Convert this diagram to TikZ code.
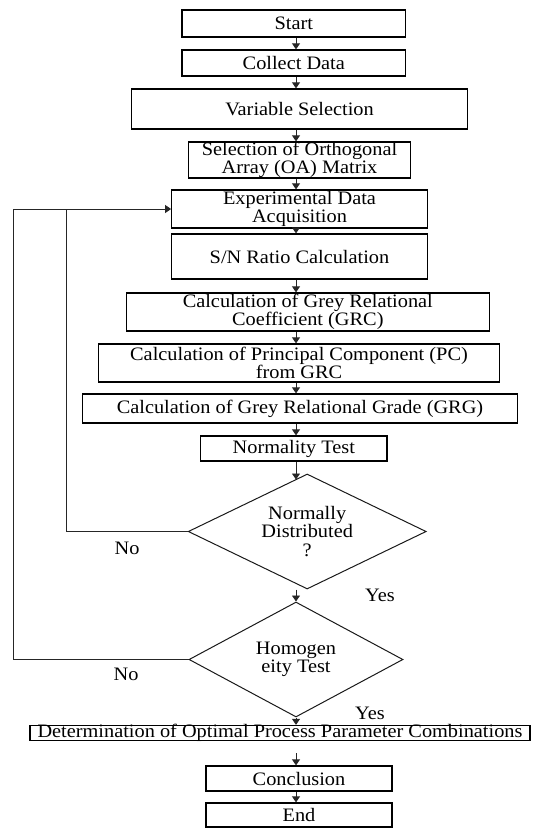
\documentclass[tikz,border=0pt]{standalone}
\usepackage{fontspec}
\setmainfont{Liberation Serif}[FakeStretch=1.07]
\usetikzlibrary{shapes.geometric,arrows.meta}
\begin{document}
\begin{tikzpicture}[x=1pt,y=-1pt,
  box/.style={draw=black,line width=1.3pt,inner sep=0pt,align=center,font=\fontsize{19}{18.5}\selectfont},
  dia/.style={diamond,draw=black!90,line width=1pt,inner sep=0pt,align=center,font=\fontsize{19}{18.5}\selectfont},
  conn/.style={draw=black!85,line width=0.9pt,-{Triangle[length=6pt,width=8pt]}},
  plain/.style={draw=black!85,line width=0.9pt},
  lbl/.style={font=\fontsize{19}{18}\selectfont,inner sep=0pt,anchor=base}]
\useasboundingbox (0,0) rectangle (541,828);
\node[box,minimum width=223.5pt,minimum height=27pt] (start) at (293.8,23.5) {Start};
\node[box,minimum width=223.5pt,minimum height=26pt] (collect) at (293.8,63) {Collect Data};
\node[box,minimum width=336pt,minimum height=40pt] (var) at (299.5,109) {Variable Selection};
\node[box,minimum width=222.4pt,minimum height=36pt] (oa) at (299.5,160) {Selection of Orthogonal\\Array (OA) Matrix};
\node[box,minimum width=255.5pt,minimum height=38pt] (exp) at (299.5,209) {Experimental Data\\Acquisition};
\node[box,minimum width=255.5pt,minimum height=45pt] (sn) at (299.5,256.5) {S/N Ratio Calculation};
\node[box,minimum width=363pt,minimum height=38pt] (grc) at (307.8,312) {Calculation of Grey Relational\\Coefficient (GRC)};
\node[box,minimum width=401.4pt,minimum height=38pt] (pc) at (299,363) {Calculation of Principal Component (PC)\\from GRC};
\node[box,minimum width=434.5pt,minimum height=29pt] (grg) at (300,408.5) {Calculation of Grey Relational Grade (GRG)};
\node[box,minimum width=186.2pt,minimum height=25pt] (norm) at (293.8,448.5) {Normality Test};
\node[dia,aspect=2,minimum width=238pt,minimum height=115pt] (d1) at (307.2,531.5) {Normally\\Distributed\\?};
\node[dia,aspect=1.8,minimum width=214pt,minimum height=115pt] (d2) at (296,659.5) {Homogen\\eity Test};
\node[box,minimum width=500pt,minimum height=15pt,text height=11pt,text depth=3pt] (det) at (280,733) {Determination of Optimal Process Parameter Combinations};
\node[box,minimum width=186.2pt,minimum height=25pt] (concl) at (299,778.5) {Conclusion};
\node[box,minimum width=186.2pt,minimum height=24pt] (end) at (299,815) {End};

\node[lbl] (no1) at (127,554) {No};
\node[lbl] (no2) at (126,680) {No};
\node[lbl] (yes1) at (380,601) {Yes};
\node[lbl] (yes2) at (370,719) {Yes};

\coordinate (ax) at (296,0);
\coordinate (d1in) at (296,479.5);
\coordinate (L1) at (66.5,0);
\coordinate (L2) at (13.5,0);

\draw[conn] (start.south -| ax) -- (collect.north -| ax);
\draw[conn] (collect.south -| ax) -- (var.north -| ax);
\draw[conn] (var.south -| ax) -- (oa.north -| ax);
\draw[conn] (oa.south -| ax) -- (exp.north -| ax);
\draw[conn] (exp.south -| ax) -- (sn.north -| ax);
\draw[conn] (sn.south -| ax) -- (grc.north -| ax);
\draw[conn] (grc.south -| ax) -- (pc.north -| ax);
\draw[conn] (pc.south -| ax) -- (grg.north -| ax);
\draw[conn] (grg.south -| ax) -- (norm.north -| ax);
\draw[conn] (norm.south -| ax) -- (d1in);
\draw[conn] (ax |- d1.south) -- (d2.north);
\draw[conn] (d2.south) -- (det.north -| d2.south);
\draw[conn,shorten <=12pt] (det.south -| ax) -- (concl.north -| ax);
\draw[conn] (concl.south -| ax) -- (end.north -| ax);

\draw[conn] (d1.west) -| (L1 |- exp.west) -- (exp.west);
\draw[plain] (d2.west) -| (L2 |- exp.west) -- (L1 |- exp.west);
\end{tikzpicture}
\end{document}
